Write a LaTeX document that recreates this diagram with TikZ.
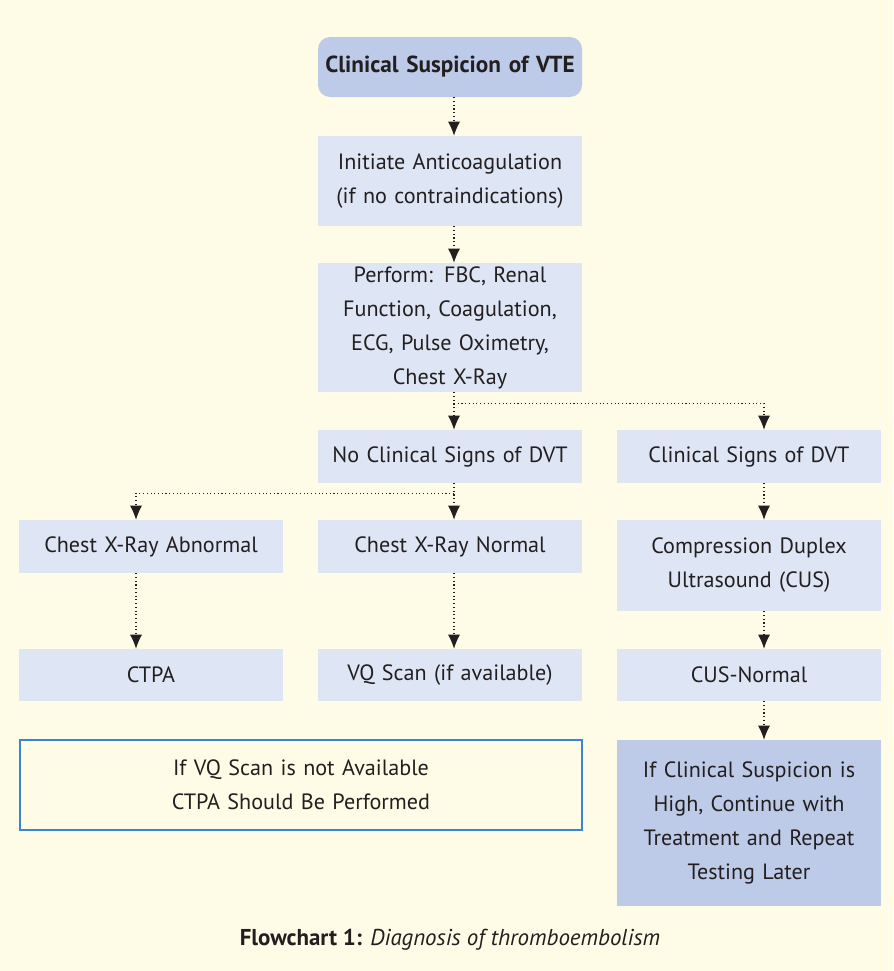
\documentclass[tikz,border=0pt]{standalone}
\usepackage{fontspec}
\setmainfont{PT Sans}
\usetikzlibrary{arrows.meta}
\definecolor{bgcream}{HTML}{FEFCE6}
\definecolor{lightbox}{HTML}{DEE6F5}
\definecolor{darkbox}{HTML}{BDCBE8}
\definecolor{noteline}{HTML}{3A87D0}
\definecolor{inkdark}{HTML}{231F20}
\tikzset{
  box/.style={fill=lightbox, minimum width=198pt, text width=194pt, align=center,
    inner sep=0pt, font=\fontsize{16.6}{25.5}\selectfont, text=inkdark},
  flow/.style={dotted, thick, draw=inkdark, -{Latex[length=10.5pt,width=9pt]}}
}
\begin{document}
\begin{tikzpicture}[x=0.75pt, y=-0.75pt]
        \fill[bgcream] (0,0) rectangle (893,971);
        \useasboundingbox (0,0) rectangle (893,971);
        % main column
        \node[box, fill=darkbox, rounded corners=9pt, minimum height=45pt, font=\fontsize{17.4}{25.5}\selectfont\bfseries] (vte) at (450,67) {Clinical Suspicion of VTE};
        \node[box, minimum height=67.5pt] (anticoag) at (450,181) {Initiate Anticoagulation\\(if no contraindications)};
        \node[box, minimum height=96.75pt] (perform) at (450,327.5) {Perform: FBC, Renal\\Function, Coagulation,\\ECG, Pulse Oximetry,\\Chest X-Ray};
        \node[box, minimum height=39.75pt] (nosigns) at (450,456.5) {No Clinical Signs of DVT};
        \node[box, minimum height=39.75pt] (signs) at (749,456.5) {Clinical Signs of DVT};
        \node[box, minimum height=39.75pt] (abnormal) at (151,546.5) {Chest X-Ray Abnormal};
        \node[box, minimum height=39.75pt] (normal) at (450,546.5) {Chest X-Ray Normal};
        \node[box, minimum height=68.25pt] (cus) at (749,565.5) {Compression Duplex\\Ultrasound (CUS)};
        \node[box, minimum height=39pt] (ctpa) at (151,675) {CTPA};
        \node[box, minimum height=39pt] (vq) at (450,675) {VQ Scan (if available)};
        \node[box, minimum height=39pt] (cusnormal) at (749,675) {CUS-Normal};
        \node[box, fill=darkbox, minimum height=124.5pt] (high) at (749,823) {If Clinical Suspicion is\\High, Continue with\\Treatment and Repeat\\Testing Later};
        \node[box, fill=bgcream, draw=noteline, thick, minimum width=421.5pt, text width=400pt, minimum height=67.5pt] (note) at (301,785) {If VQ Scan is not Available\\CTPA Should Be Performed};
        % caption
        \node[text=inkdark, font=\fontsize{17.2}{20}\selectfont] (caption) at (450,940) {\textbf{Flowchart 1:} \textit{Diagnosis of thromboembolism}};
        % connectors
        \draw[flow] ([xshift=3pt]vte.south) -- ([xshift=3pt]anticoag.north);
        \draw[flow] ([xshift=3pt]anticoag.south) -- ([xshift=3pt]perform.north);
        \draw[flow] ([xshift=3pt]perform.south) -- ([xshift=3pt]nosigns.north);
        \draw[flow] ([xshift=3pt,yshift=-8.25pt]perform.south) -| ([xshift=11.25pt]signs.north);
        \draw[flow] ([xshift=3pt]nosigns.south) -- ([xshift=3pt]normal.north);
        \draw[flow] ([xshift=3pt,yshift=-7.5pt]nosigns.south) -| ([xshift=-11.25pt]abnormal.north);
        \draw[flow] ([xshift=11.25pt]signs.south) -- ([xshift=11.25pt]cus.north);
        \draw[flow] ([xshift=-11.25pt]abnormal.south) -- ([xshift=-11.25pt]ctpa.north);
        \draw[flow] ([xshift=3pt]normal.south) -- ([xshift=3pt]vq.north);
        \draw[flow] ([xshift=11.25pt]cus.south) -- ([xshift=11.25pt]cusnormal.north);
        \draw[flow] ([xshift=11.25pt]cusnormal.south) -- ([xshift=11.25pt]high.north);
    \end{tikzpicture}
\end{document}
